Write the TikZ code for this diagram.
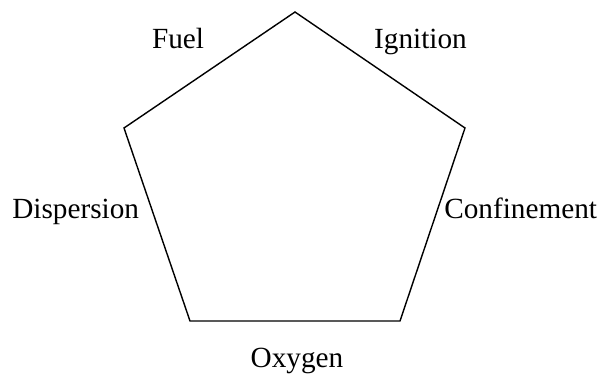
\documentclass[tikz,border=0pt]{standalone}
\usepackage{fontspec}
\setmainfont{Liberation Serif}
\usetikzlibrary{positioning}
\tikzset{side/.style={font=\fontsize{20.8}{24}\selectfont,inner sep=0pt}}

\begin{document}
\begin{tikzpicture}[x=0.025cm,y=-0.025cm]
\useasboundingbox (0,0) rectangle (600,377);
% Ecken des Fuenfecks
\coordinate (top) at (295,12);
\coordinate (upr) at (465,128);
\coordinate (lor) at (400,321);
\coordinate (lol) at (190,321);
\coordinate (upl) at (124,128);
\draw[line width=1pt,line join=miter] (top)--(upr)--(lor)--(lol)--(upl)--cycle;

% Beschriftungen
\node[side,anchor=base] (fuel) at (178,48) {Fuel};
\node[side,anchor=base] (ignition) at (420.5,48) {Ignition};
\node[side,anchor=base west] (dispersion) at (12,218) {Dispersion};
\node[side,anchor=base west] (confinement) at (444,218) {Confinement};
\node[side,anchor=base] (oxygen) at (297,367) {Oxygen};
\end{tikzpicture}
\end{document}
